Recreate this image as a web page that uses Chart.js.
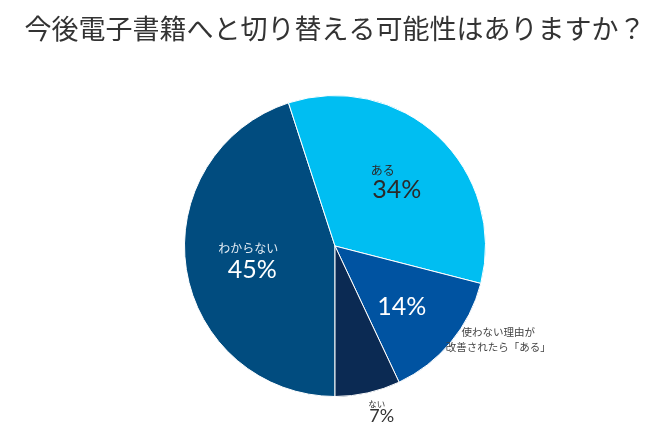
<!DOCTYPE html>
<html>
<head>
<meta charset="utf-8">
<script src="https://cdn.jsdelivr.net/npm/chart.js@4"></script>
<style>
html,body{margin:0;padding:0;background:#fff;}
#wrap{width:650px;height:429px;position:relative;}
</style>
</head>
<body>
<div id="wrap"><canvas id="c" width="650" height="429"></canvas></div>
<script>
const titleText = '今後電子書籍へと切り替える可能性はありますか？';
const categories = ['わからない', 'ある', '使わない理由が改善されたら「ある」', 'ない'];
const values = [45, 34, 14, 7];
const pctLabels = ['45%', '34%', '14%', '7%'];
const nameLines = [['わからない'], ['ある'], ['使わない理由が', '改善されたら「ある」'], ['ない']];
const colors = ['#014C7F', '#00BEF2', '#0053A1', '#0B2A53'];

// label placement relative to each arc (radius factor, angle nudge in degrees)
const place = [
  {r:0.57, da:0, pct:{dx:2,dy:11,size:25,color:'#ffffff'}, name:{dx:-2,dy:-11,size:12,color:'#e6eef5'}},
  {r:0.60, da:0, pct:{dx:0,dy:10,size:25,color:'#2a2a2a'}, name:{dx:-14,dy:-10,size:12,color:'#2a2a2a'}},
  {r:0.60, da:2.7, pct:{dx:0,dy:0,size:25,color:'#ffffff'}, name:null, outside:{r:1.25, da:-9.8, size:10.5, color:'#444', lh:15}},
  {r:1.12, da:-3.5, pct:{dx:0,dy:8,size:18,color:'#333'}, name:{dx:-5,dy:-4,size:8.5,color:'#333'}}
];

const labelPlugin = {
  id: 'sliceLabels',
  afterDatasetsDraw(chart) {
    const ctx = chart.ctx;
    const meta = chart.getDatasetMeta(0);
    meta.data.forEach((arc, i) => {
      const p = arc.getProps(['x','y','startAngle','endAngle','outerRadius'], true);
      const p0 = place[i];
      const mid = (p.startAngle + p.endAngle) / 2 + p0.da * Math.PI / 180;
      const ax = p.x + Math.cos(mid) * p.outerRadius * p0.r;
      const ay = p.y + Math.sin(mid) * p.outerRadius * p0.r;
      ctx.save();
      ctx.textAlign = 'center';
      ctx.textBaseline = 'middle';
      ctx.fillStyle = p0.pct.color;
      ctx.font = '400 ' + p0.pct.size + 'px Lato, "Noto Sans", sans-serif';
      ctx.fillText(pctLabels[i], ax + p0.pct.dx, ay + p0.pct.dy);
      if (p0.name) {
        ctx.fillStyle = p0.name.color;
        ctx.font = '400 ' + p0.name.size + 'px "Noto Sans CJK JP", sans-serif';
        ctx.fillText(nameLines[i][0], ax + p0.name.dx, ay + p0.name.dy);
      }
      if (p0.outside) {
        const o = p0.outside;
        const m2 = (p.startAngle + p.endAngle) / 2 + o.da * Math.PI / 180;
        const ox = p.x + Math.cos(m2) * p.outerRadius * o.r;
        const oy = p.y + Math.sin(m2) * p.outerRadius * o.r;
        ctx.fillStyle = o.color;
        ctx.font = '400 ' + o.size + 'px "Noto Sans CJK JP", sans-serif';
        const lines = nameLines[i];
        lines.forEach((t, k) => {
          ctx.fillText(t, ox, oy + (k - (lines.length - 1) / 2) * o.lh);
        });
      }
      ctx.restore();
    });
  }
};

new Chart(document.getElementById('c'), {
  type: 'pie',
  data: {
    labels: categories,
    datasets: [{
      data: values,
      backgroundColor: colors,
      borderColor: '#ffffff',
      borderWidth: 1
    }]
  },
  options: {
    responsive: false,
    animation: false,
    rotation: 180,
    layout: { padding: { left: 20, right: 0, top: 0, bottom: 32 } },
    plugins: {
      legend: { display: false },
      tooltip: { enabled: false },
      title: {
        display: true,
        text: titleText,
        color: '#333333',
        font: { family: '"Noto Sans CJK JP", sans-serif', size: 27, weight: '400', lineHeight: 1.2 },
        padding: { top: 13, bottom: 49.6 }
      }
    }
  },
  plugins: [labelPlugin]
});
</script>
</body>
</html>
